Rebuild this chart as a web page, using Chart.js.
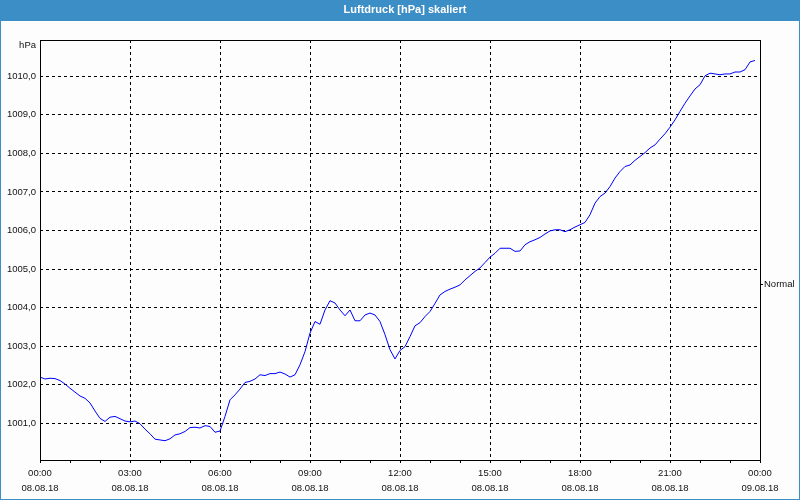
<!DOCTYPE html>
<html lang="de">
<head>
<meta charset="utf-8">
<title>Luftdruck [hPa] skaliert</title>
<script src="https://cdn.jsdelivr.net/npm/chart.js@4/dist/chart.umd.min.js"></script>
<style>
  html, body { margin: 0; padding: 0; background: #fcfdfc; }
  canvas { display: block; }
</style>
</head>
<body>
<canvas id="pressureChart" width="800" height="500"></canvas>
<script>
// Chart data
const chartTitle = "Luftdruck [hPa] skaliert";
const unitLabel = "hPa";
const seriesName = "Normal";

// one sample every 10 minutes, starting 08.08.18 00:00
const sampleStepMinutes = 10;
const pressure = [
  1002.20, 1002.15, 1002.17, 1002.16, 1002.11, 1002.02, 1001.91, 1001.81, 1001.71, 1001.65,
  1001.53, 1001.32, 1001.13, 1001.05, 1001.16, 1001.18, 1001.12, 1001.06, 1001.04, 1001.06,
  1000.99, 1000.85, 1000.73, 1000.59, 1000.57, 1000.55, 1000.60, 1000.70, 1000.73, 1000.79,
  1000.89, 1000.90, 1000.88, 1000.94, 1000.92, 1000.77, 1000.80, 1001.18, 1001.61, 1001.74,
  1001.89, 1002.06, 1002.09, 1002.15, 1002.26, 1002.24, 1002.29, 1002.29, 1002.33, 1002.28,
  1002.20, 1002.26, 1002.52, 1002.86, 1003.34, 1003.64, 1003.57, 1003.94, 1004.18, 1004.12,
  1003.94, 1003.79, 1003.94, 1003.66, 1003.66, 1003.81, 1003.86, 1003.81, 1003.64, 1003.30,
  1002.91, 1002.67, 1002.89, 1002.99, 1003.25, 1003.53, 1003.61, 1003.77, 1003.90, 1004.11,
  1004.33, 1004.42, 1004.48, 1004.53, 1004.59, 1004.72, 1004.83, 1004.94, 1005.03, 1005.17,
  1005.31, 1005.41, 1005.54, 1005.54, 1005.54, 1005.46, 1005.47, 1005.63, 1005.71, 1005.76,
  1005.82, 1005.91, 1005.99, 1006.02, 1006.02, 1005.97, 1006.02, 1006.09, 1006.15, 1006.21,
  1006.41, 1006.71, 1006.88, 1006.97, 1007.14, 1007.36, 1007.53, 1007.66, 1007.70, 1007.82,
  1007.92, 1008.02, 1008.14, 1008.22, 1008.37, 1008.51, 1008.68, 1008.87, 1009.09, 1009.30,
  1009.49, 1009.67, 1009.78, 1010.01, 1010.08, 1010.06, 1010.04, 1010.06, 1010.06, 1010.11,
  1010.11, 1010.17, 1010.37, 1010.41
];

// x axis: labelled every 3 hours, small tick marks every hour
const timeLabels = ["00:00", "03:00", "06:00", "09:00", "12:00", "15:00", "18:00", "21:00", "00:00"];
const dateLabels = ["08.08.18", "08.08.18", "08.08.18", "08.08.18", "08.08.18", "08.08.18", "08.08.18", "08.08.18", "09.08.18"];
const labelEveryMinutes = 180;
const minorTickMinutes = 60;
const xMinMinutes = 0;
const xMaxMinutes = 1440;

// y axis
const yTickValues = [1001, 1002, 1003, 1004, 1005, 1006, 1007, 1008, 1009, 1010];
const yMin = 1000.05;
const yMax = 1010.94;

const FONT = "'Liberation Sans', Arial, sans-serif";
const BAR_BLUE = "#3c8ec6";

/**
 * Draws the window frame, title bar and the extra texts around the plot
 */
const framePlugin = {
  id: "framePlugin",
  beforeDraw(chart) {
    const ctx = chart.ctx;
    ctx.save();
    ctx.fillStyle = "#fcfdfc";
    ctx.fillRect(0, 0, chart.width, chart.height);
    ctx.fillStyle = BAR_BLUE;
    ctx.fillRect(0, 0, chart.width, 21);
    ctx.fillStyle = "#ffffff";
    ctx.font = "bold 11px " + FONT;
    ctx.textAlign = "center";
    ctx.textBaseline = "middle";
    ctx.fillText(chartTitle, chart.width / 2 + 5, 10);
    ctx.restore();
  },
  afterDraw(chart) {
    const ctx = chart.ctx;
    const a = chart.chartArea;
    ctx.save();
    // plot frame
    ctx.strokeStyle = "#000000";
    ctx.lineWidth = 1;
    ctx.strokeRect(Math.round(a.left) + 0.5, Math.round(a.top) + 0.5,
      Math.round(a.right - a.left), Math.round(a.bottom - a.top));

    // unit label and series label
    ctx.fillStyle = "#111111";
    ctx.font = "9.5px " + FONT;
    ctx.textBaseline = "middle";
    ctx.textAlign = "right";
    ctx.fillText(unitLabel, a.left - 4, a.top + 5);

    const midY = 284.5;
    ctx.beginPath();
    ctx.moveTo(a.right, midY);
    ctx.lineTo(a.right + 3, midY);
    ctx.stroke();
    ctx.textAlign = "left";
    ctx.fillText(seriesName, a.right + 4, midY);

    // outer window border
    ctx.strokeStyle = BAR_BLUE;
    ctx.strokeRect(0.5, 0.5, chart.width - 1, chart.height - 1);
    ctx.restore();
  }
};

function initPressureChart() {
  const points = pressure.map((v, i) => ({ x: i * sampleStepMinutes, y: v }));

  new Chart(document.getElementById("pressureChart"), {
    type: "line",
    data: {
      datasets: [
        {
          label: seriesName,
          data: points,
          borderColor: "#0000ff",
          borderWidth: 1,
          pointRadius: 0,
          tension: 0,
          fill: false,
        },
      ],
    },
    options: {
      responsive: false,
      animation: false,
      layout: {
        padding: { top: 40, right: 40, left: 0, bottom: 0 },
      },
      plugins: {
        legend: { display: false },
        title: { display: false },
        tooltip: { enabled: false },
      },
      scales: {
        x: {
          type: "linear",
          min: xMinMinutes,
          max: xMaxMinutes,
          afterBuildTicks: (scale) => {
            const ticks = [];
            for (let m = xMinMinutes; m <= xMaxMinutes; m += minorTickMinutes) {
              ticks.push({ value: m });
            }
            scale.ticks = ticks;
          },
          afterFit: (scale) => {
            scale.height = 40;
          },
          border: { display: false, dash: [3, 3] },
          grid: {
            color: (c) => {
              const v = c.tick && c.tick.value;
              if (v === undefined || v === xMinMinutes || v === xMaxMinutes) return "rgba(0,0,0,0)";
              return v % labelEveryMinutes === 0 ? "#000000" : "rgba(0,0,0,0)";
            },
            lineWidth: 1,
            drawTicks: true,
            tickLength: 3,
            tickColor: "#000000",
          },
          ticks: {
            autoSkip: false,
            maxRotation: 0,
            padding: 3,
            color: "#111111",
            font: { family: FONT, size: 9.5, lineHeight: 15 / 9.5 },
            callback: (value) => {
              if (value % labelEveryMinutes !== 0) return "";
              const k = value / labelEveryMinutes;
              return [timeLabels[k], dateLabels[k]];
            },
          },
        },
        y: {
          type: "linear",
          min: yMin,
          max: yMax,
          afterBuildTicks: (scale) => {
            scale.ticks = yTickValues.map((v) => ({ value: v }));
          },
          afterFit: (scale) => {
            scale.width = 40;
          },
          border: { display: false, dash: [3, 3] },
          grid: {
            color: "#000000",
            lineWidth: 1,
            drawTicks: false,
          },
          ticks: {
            padding: 4,
            color: "#111111",
            font: { family: FONT, size: 9.5 },
            callback: (value) => value.toFixed(1).replace(".", ","),
          },
        },
      },
    },
    plugins: [framePlugin],
  });
}

initPressureChart();
</script>
</body>
</html>
